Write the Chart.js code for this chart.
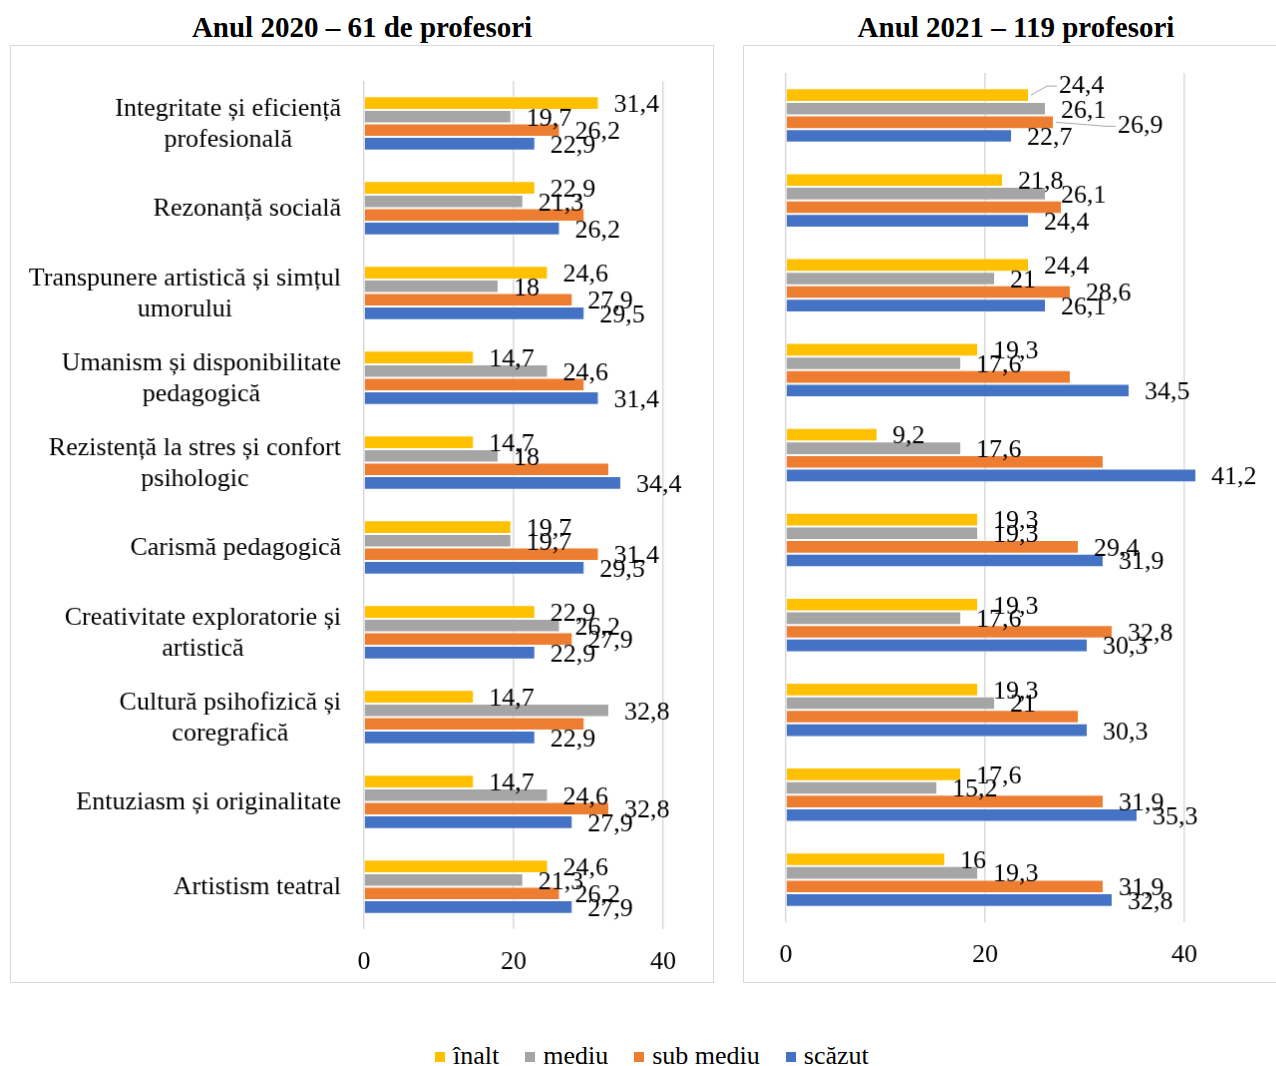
<!DOCTYPE html>
<html>
<head>
<meta charset="utf-8">
<script src="https://cdn.jsdelivr.net/npm/chart.js@4.4.1/dist/chart.umd.min.js"></script>
<style>
  body { margin: 0; background: #fff; overflow: hidden; width: 1276px; height: 1066px; position: relative;
         font-family: 'Liberation Serif', 'Times New Roman', serif; color: #000; }
  .title { position: absolute; top: 9px; font-weight: bold; font-size: 29px; line-height: 36px; white-space: nowrap; transform: translateX(-50%); }
  canvas.panel { position: absolute; top: 45px; border: 1px solid #d9d9d9; }
  #legend { position: absolute; left: 435px; top: 1040px; font-size: 26px; line-height: 32px; white-space: nowrap; }
  #legend span.item { display: inline-block; margin-right: 26px; }
  #legend i { display: inline-block; width: 10px; height: 10px; margin-right: 8px; vertical-align: 2px; }
</style>
</head>
<body>
<div class="title" style="left:362px">Anul 2020 – 61 de profesori</div>
<div class="title" style="left:1016px">Anul 2021 – 119 profesori</div>
<canvas id="chart2020" class="panel" width="704" height="938" style="left:10px"></canvas>
<canvas id="chart2021" class="panel" width="544" height="938" style="left:743px"></canvas>
<div id="legend"></div>

<script>
const categories = [
  ['Integritate și eficiență', 'profesională'],
  ['Rezonanță socială'],
  ['Transpunere artistică și simțul', 'umorului'],
  ['Umanism și disponibilitate', 'pedagogică'],
  ['Rezistență la stres și confort', 'psihologic'],
  ['Carismă pedagogică'],
  ['Creativitate exploratorie și', 'artistică'],
  ['Cultură psihofizică și', 'coregrafică'],
  ['Entuziasm și originalitate'],
  ['Artistism teatral']
]

const seriesNames = ['înalt', 'mediu', 'sub mediu', 'scăzut']
const colors = ['#FFC000', '#A5A5A5', '#ED7D31', '#4472C4']

// anul 2020
const inalt2020    = [31.4, 22.9, 24.6, 14.7, 14.7, 19.7, 22.9, 14.7, 14.7, 24.6]
const mediu2020    = [19.7, 21.3, 18, 24.6, 18, 19.7, 26.2, 32.8, 24.6, 21.3]
const subMediu2020 = [26.2, 29.5, 27.9, 29.5, 32.8, 31.4, 27.9, 29.5, 32.8, 26.2]
const scazut2020   = [22.9, 26.2, 29.5, 31.4, 34.4, 29.5, 22.9, 22.9, 27.9, 27.9]

// anul 2021
const inalt2021    = [24.4, 21.8, 24.4, 19.3, 9.2, 19.3, 19.3, 19.3, 17.6, 16]
const mediu2021    = [26.1, 26.1, 21, 17.6, 17.6, 19.3, 17.6, 21, 15.2, 19.3]
const subMediu2021 = [26.9, 27.7, 28.6, 28.6, 31.9, 29.4, 32.8, 29.4, 31.9, 31.9]
const scazut2021   = [22.7, 24.4, 26.1, 34.5, 41.2, 31.9, 30.3, 30.3, 35.3, 32.8]

const xTicks = [0, 20, 40]

// etichete "sub mediu" care nu apar in original
const hiddenSubMediu = [1, 3, 4, 7]

const FONT = '"Liberation Serif", "Times New Roman", serif'

const valueLabels = {
  id: 'valueLabels',
  afterDatasetsDraw(chart, args, opts) {
    const ctx = chart.ctx
    const moved = opts.moved || []
    ctx.save()
    ctx.font = '26px ' + FONT
    ctx.textBaseline = 'middle'
    chart.data.datasets.forEach((ds, di) => {
      chart.getDatasetMeta(di).data.forEach((bar, i) => {
        if (di === 2 && hiddenSubMediu.includes(i)) return
        let x = bar.x + 15
        let y = bar.y + 2
        const mv = moved.find(m => m.d === di && m.i === i)
        if (mv) {
          x = bar.x + mv.dx
          y = bar.y + mv.dy
          ctx.strokeStyle = '#a6a6a6'
          ctx.lineWidth = 1
          ctx.beginPath()
          ctx.moveTo(bar.x + 2, bar.y)
          ctx.lineTo(x - 12, y)
          ctx.lineTo(x - 2, y)
          ctx.stroke()
        }
        ctx.fillStyle = '#000'
        ctx.fillText(String(ds.data[i]).replace('.', ','), x, y)
      })
    })
    ctx.restore()
  }
}

const categoryLabels = {
  id: 'categoryLabels',
  afterDraw(chart, args, opts) {
    if (!opts.show) return
    const ctx = chart.ctx
    const yScale = chart.scales.y
    ctx.save()
    ctx.font = '26px ' + FONT
    ctx.fillStyle = '#000'
    ctx.textAlign = 'center'
    ctx.textBaseline = 'middle'
    categories.forEach((lines, i) => {
      const w = Math.max(...lines.map(l => ctx.measureText(l).width))
      const cx = opts.right - w / 2
      const cy = yScale.getPixelForValue(i)
      lines.forEach((l, k) => {
        ctx.fillText(l, cx, cy + 1 + (k - (lines.length - 1) / 2) * 31)
      })
    })
    ctx.restore()
  }
}

function makeChart(id, data, cfg) {
  const ctx = document.getElementById(id).getContext('2d')
  return new Chart(ctx, {
    type: 'bar',
    data: {
      labels: categories.map(c => c.join(' ')),
      datasets: data.map((d, k) => ({
        label: seriesNames[k],
        data: d,
        backgroundColor: colors[k],
        borderColor: 'rgba(255,255,255,0.5)',
        borderWidth: 1,
        categoryPercentage: 0.64,
        barPercentage: 1
      }))
    },
    options: {
      indexAxis: 'y',
      responsive: false,
      animation: false,
      layout: { padding: cfg.padding },
      scales: {
        x: {
          min: 0,
          max: cfg.max,
          afterBuildTicks: axis => { axis.ticks = xTicks.map(v => ({ value: v })) },
          afterFit: axis => { axis.height = cfg.axisHeight },
          grid: { color: '#d9d9d9', lineWidth: 1.5, drawTicks: false },
          border: { display: false },
          ticks: { padding: 18, color: '#000', font: { family: FONT, size: 26 } }
        },
        y: { display: false }
      },
      plugins: {
        legend: { display: false },
        tooltip: { enabled: false },
        valueLabels: { moved: cfg.moved || [] },
        categoryLabels: { show: !!cfg.catRight, right: cfg.catRight }
      }
    },
    plugins: [valueLabels, categoryLabels]
  })
}

makeChart('chart2020', [inalt2020, mediu2020, subMediu2020, scazut2020], {
  max: 40,
  padding: { left: 354, right: 50, top: 35, bottom: 0 },
  axisHeight: 53,
  catRight: 331
})

makeChart('chart2021', [inalt2021, mediu2021, subMediu2021, scazut2021], {
  max: 50,
  padding: { left: 42, right: 2, top: 27, bottom: 0 },
  axisHeight: 60,
  moved: [{ d: 0, i: 0, dx: 30, dy: -9 }, { d: 2, i: 0, dx: 64, dy: 4 }]
})

const legend = document.getElementById('legend')
seriesNames.forEach((name, k) => {
  const item = document.createElement('span')
  item.className = 'item'
  item.innerHTML = '<i style="background:' + colors[k] + '"></i>' + name
  legend.appendChild(item)
})
</script>
</body>
</html>
